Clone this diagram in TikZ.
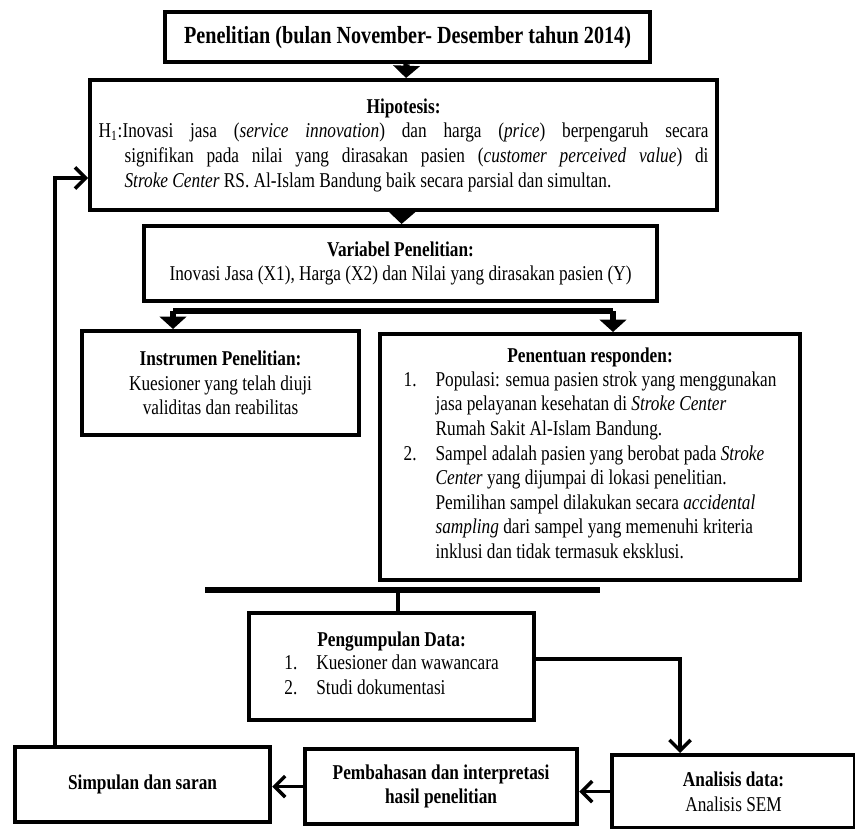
\documentclass[tikz,border=0pt]{standalone}
\usepackage{fontspec}
\setmainfont{Liberation Serif}[FakeStretch=0.82]
\usetikzlibrary{arrows.meta,calc,positioning}

\begin{document}
\begin{tikzpicture}[x=0.02cm, y=-0.02cm,
  kotak/.style={draw, line width=2.4pt, anchor=north west, inner sep=2pt,
                font=\fontsize{12}{14}\selectfont, align=center},
  panah/.style={line width=3.6pt, -{Triangle[width=15pt, length=7pt]}},
  palang/.style={line width=3.6pt},
  garis/.style={line width=2pt},
  tipis/.style={line width=2pt, -{Straight Barb[length=6pt, width=12pt]}}]
\useasboundingbox (0,0) rectangle (855,828);

\node[kotak, minimum width=9.7cm, minimum height=1cm, font=\fontsize{14}{16}\selectfont]
  (penelitian) at (163,10)
  {\bfseries Penelitian (bulan November- Desember tahun 2014)};
\node[kotak, minimum width=12.54cm, minimum height=2.6cm, text width=12.2cm,
      align=justify] (hipotesis) at (88,78)
  {\parindent=0pt{\centering\bfseries Hipotesis:\par}
   \hangindent=0.52cm \hangafter=1
   H\textsubscript{1}:Inovasi jasa (\textit{service innovation}) dan harga
   (\textit{price}) berpengaruh secara\linebreak signifikan pada nilai yang
   dirasakan pasien (\textit{customer perceived value}) di\linebreak
   \textit{Stroke Center} RS. Al-Islam Bandung baik secara parsial dan simultan.\par};
\node[kotak, minimum width=10.26cm, minimum height=1.5cm] (variabel) at (142,224)
  {\bfseries Variabel Penelitian:\\
   Inovasi Jasa (X1), Harga (X2) dan Nilai yang dirasakan pasien (Y)};
\node[kotak, minimum width=5.54cm, minimum height=2.08cm] (instrumen) at (80,329)
  {\bfseries Instrumen Penelitian:\\ Kuesioner yang telah diuji\\ validitas dan reabilitas};
\node[kotak, minimum width=8.4cm, minimum height=4.92cm] (penentuan) at (378,332)
  {\bfseries Penentuan responden:\\
   \begin{tabular}{@{}l@{\hspace{0.38cm}}l@{}}
   1. & Populasi: semua pasien strok yang menggunakan\\
      & jasa pelayanan kesehatan di \textit{Stroke Center}\\
      & Rumah Sakit Al-Islam Bandung.\\
   2. & Sampel adalah pasien yang berobat pada \textit{Stroke}\\
      & \textit{Center} yang dijumpai di lokasi penelitian.\\
      & Pemilihan sampel dilakukan secara \textit{accidental}\\
      & \textit{sampling} dari sampel yang memenuhi kriteria\\
      & inklusi dan tidak termasuk eksklusi.
   \end{tabular}};
\node[kotak, minimum width=5.7cm, minimum height=2.14cm] (pengumpulan) at (247,611)
  {\bfseries Pengumpulan Data:\\
   \begin{tabular}{@{}l@{\hspace{0.38cm}}l@{}}
   1. & Kuesioner dan wawancara\\
   2. & Studi dokumentasi
   \end{tabular}};
\node[kotak, minimum width=5.1cm, minimum height=1.5cm] (simpulan) at (13,745)
  {\bfseries Simpulan dan saran};
\node[kotak, minimum width=5.44cm, minimum height=1.5cm] (pembahasan) at (303,747)
  {\bfseries Pembahasan dan interpretasi\\ \bfseries hasil penelitian};
\node[kotak, minimum width=4.86cm, minimum height=1.46cm] (analisis) at (610,753)
  {\bfseries Analisis data:\\ Analisis SEM};

\coordinate (cabangKiri) at (173,311);
\coordinate (cabangKanan) at (613,311);
\coordinate (kumpulKiri) at (205,590);
\coordinate (kumpulKanan) at (600,590);
\coordinate (kumpulTengah) at (398,590);
\coordinate (belok) at (680,659);
\coordinate (balik) at (55,178);

\draw[panah] (penelitian) -- (hipotesis);
\draw[panah] (hipotesis) -- (variabel);
\draw[palang] (cabangKiri) -- (cabangKanan);
\draw[panah] (cabangKiri) -- (cabangKiri |- instrumen.north);
\draw[panah] (cabangKanan) -- (cabangKanan |- penentuan.north);
\draw[palang] (kumpulKiri) -- (kumpulKanan);
\draw[garis] (kumpulTengah) -- (kumpulTengah |- pengumpulan.north);
\draw[tipis] (pengumpulan.east |- belok) -- (belok) -- (belok |- analisis.north);
\draw[tipis] (analisis.west) -- (pembahasan.east |- analisis.west);
\draw[tipis] (pembahasan.west) -- (simpulan.east |- pembahasan.west);
\draw[tipis] (simpulan.north -| balik) -- (balik) -- (balik -| hipotesis.west);
\end{tikzpicture}
\end{document}
